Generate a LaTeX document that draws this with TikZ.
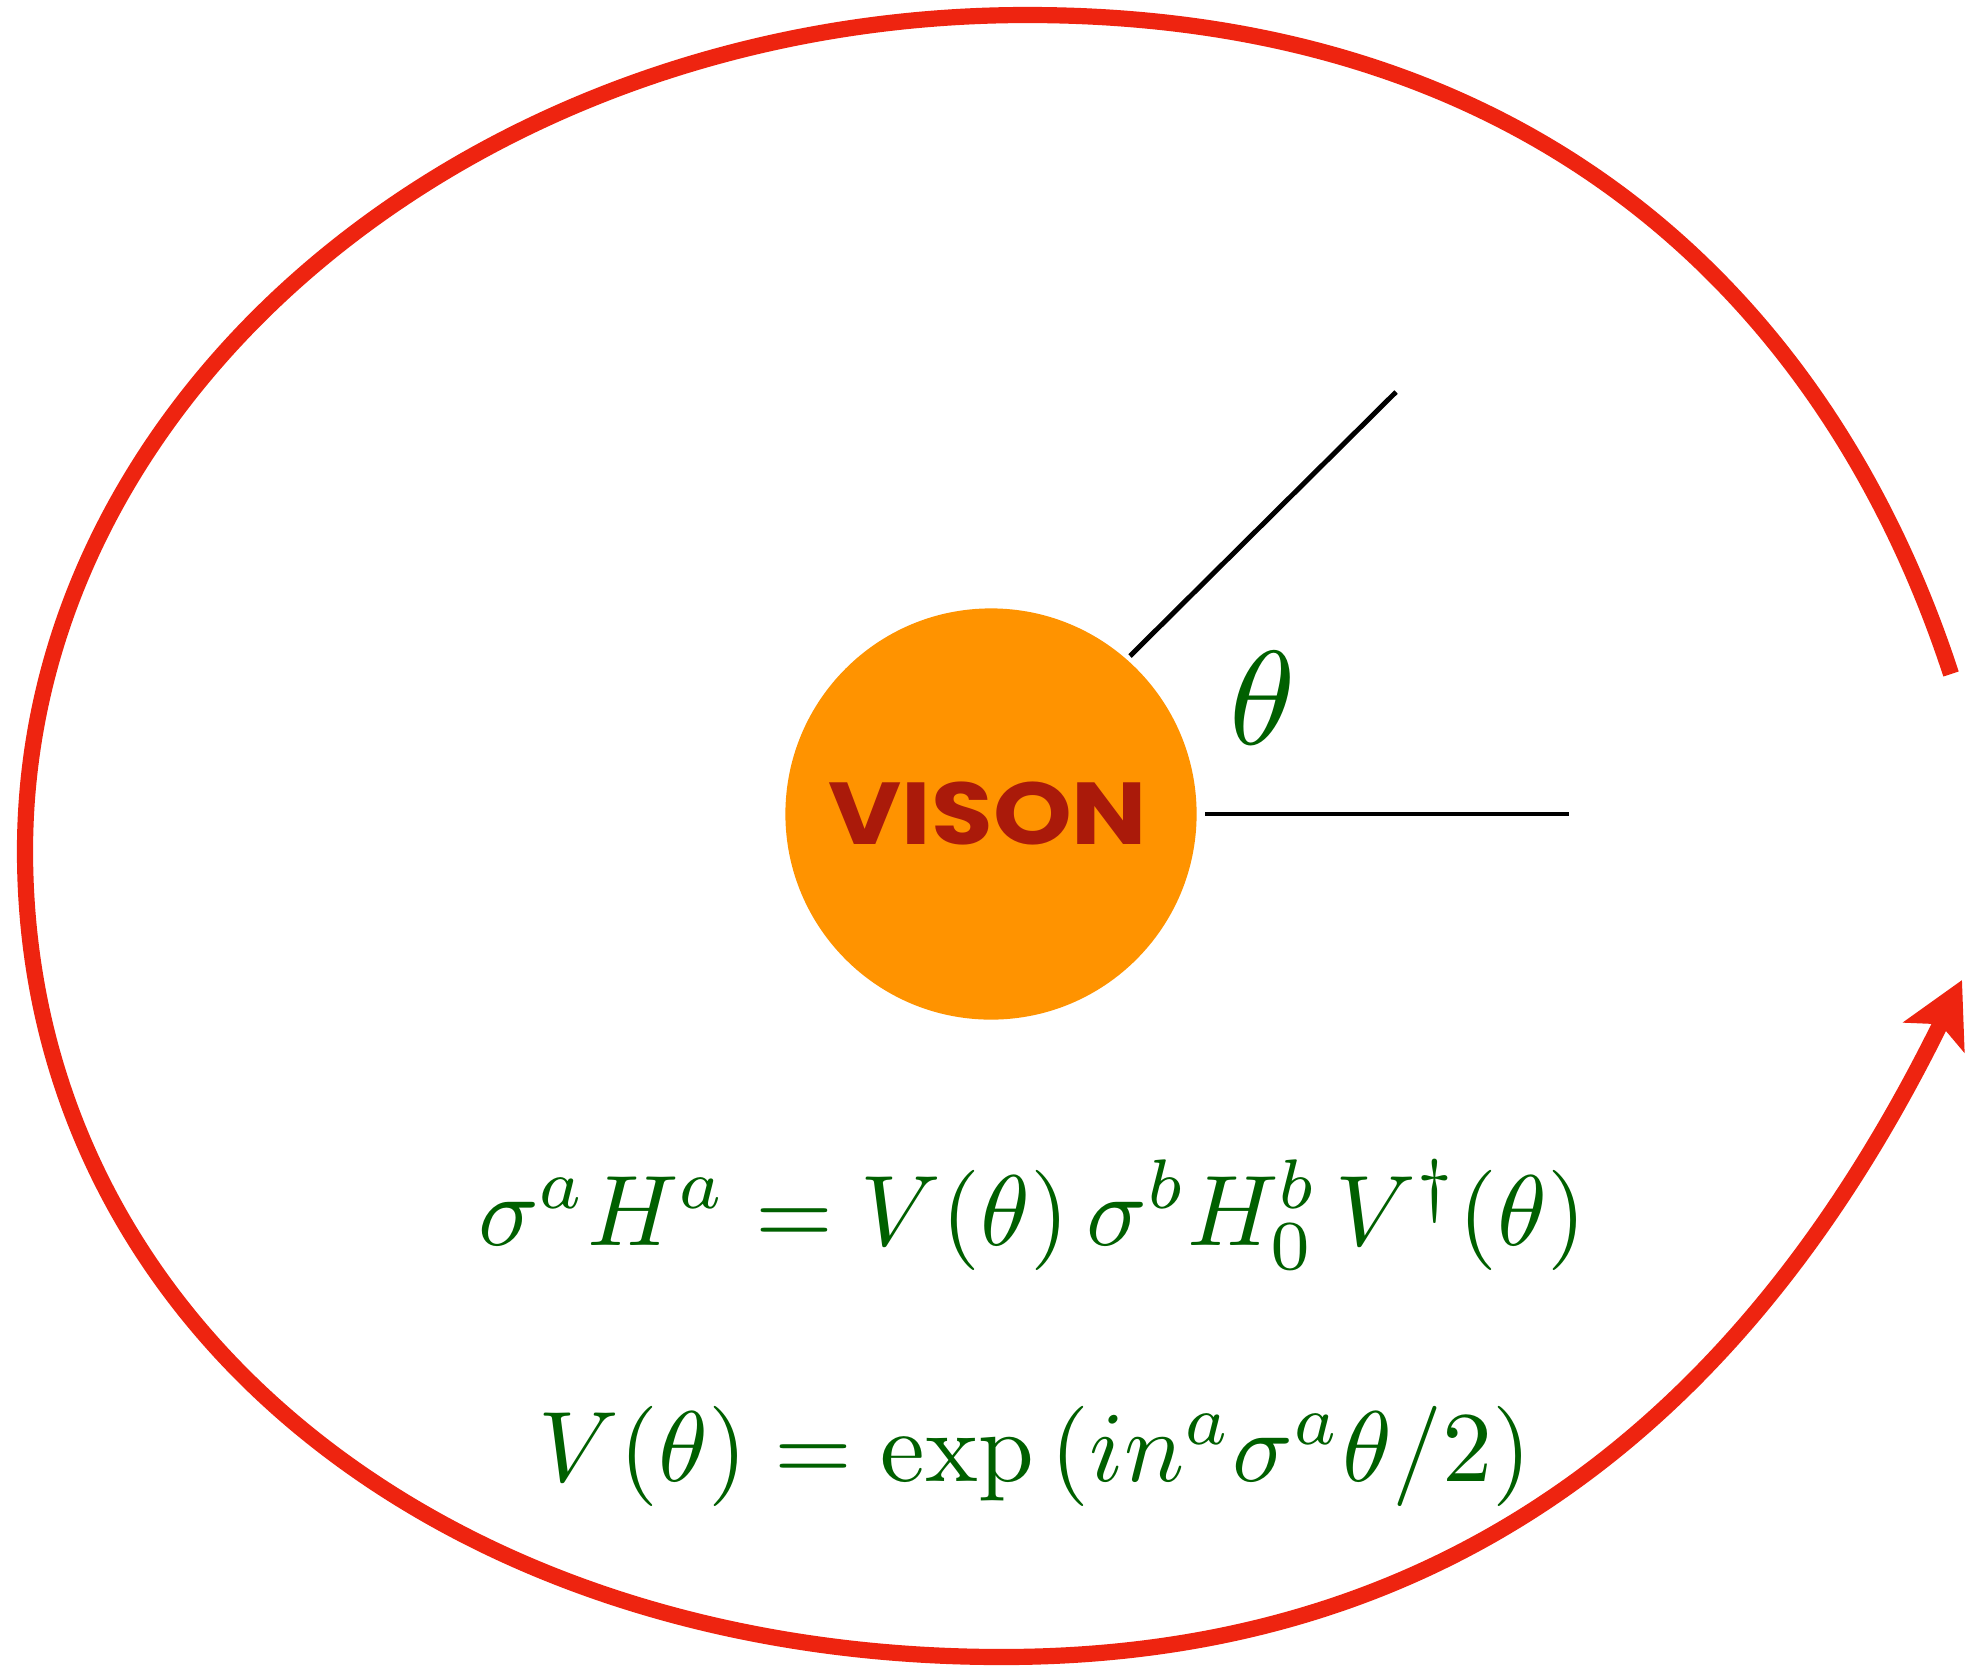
\documentclass[tikz,border=0pt]{standalone}
\usepackage{fontspec}
\usepackage{amsmath}
\usepackage{graphicx}
\newfontfamily\visonfont{Poppins}
\usetikzlibrary{arrows.meta}
\definecolor{loopred}{RGB}{238,36,16}
\definecolor{visonorange}{RGB}{255,147,0}
\definecolor{visonred}{RGB}{170,26,10}
\definecolor{eqgreen}{RGB}{0,96,0}
\begin{document}
\begin{tikzpicture}[x=0.01cm,y=-0.01cm,
  loopline/.style={draw=loopred, line width=4.6pt, -{Stealth[length=18pt,width=19pt,inset=4pt]}},
  ray/.style={draw=black, line width=1.4pt},
  visonball/.style={circle, fill=visonorange, inner sep=0pt, minimum size=4.11cm},
  visonlabel/.style={text=visonred, inner sep=0pt, font=\visonfont\bfseries\fontsize{25}{25}\selectfont},
  eqn/.style={text=eqgreen, inner sep=0pt, scale=2.85, anchor=base},
  anglelabel/.style={text=eqgreen, inner sep=0pt, scale=3.8}]
\useasboundingbox (0,0) rectangle (1976,1666);
\fill[white] (0,0) rectangle (1976,1666);

% loop around the vison
\coordinate (loopstart) at (1951,674);
\coordinate (looptop) at (1027,15);
\coordinate (loopleft) at (25,851);
\coordinate (loopbottom) at (1002,1657);
\coordinate (looptip) at (1962,980);
\draw[loopline] (loopstart) .. controls (1833,313) and (1547,15) .. (looptop)
  .. controls (477,15) and (25,391) .. (loopleft)
  .. controls (25,1321) and (442,1657) .. (loopbottom)
  .. controls (1522,1657) and (1790,1330) .. (looptip);

% vison
\node[visonball] (vison) at (991,814) {};
\node[visonlabel] (visontext) at (988,813) {\scalebox{1.14}[1]{VISON}};

% angle rays
\coordinate (diagA) at (1130,656);
\coordinate (diagB) at (1396,392);
\coordinate (horA) at (1205,814);
\coordinate (horB) at (1569,814);
\draw[ray] (diagA) -- (diagB);
\draw[ray] (horA) -- (horB);
\node[anglelabel] (theta) at (1263,698) {$\theta$};

% equations
\node[eqn] (eqone) at (1032,1245) {$\sigma^a H^a = V(\theta)\,\sigma^b H^b_0\,V^\dagger(\theta)$};
\node[eqn] (eqtwo) at (1035,1481) {$V(\theta) = \exp\,(i n^a \sigma^a \theta/2)$};
\end{tikzpicture}
\end{document}
